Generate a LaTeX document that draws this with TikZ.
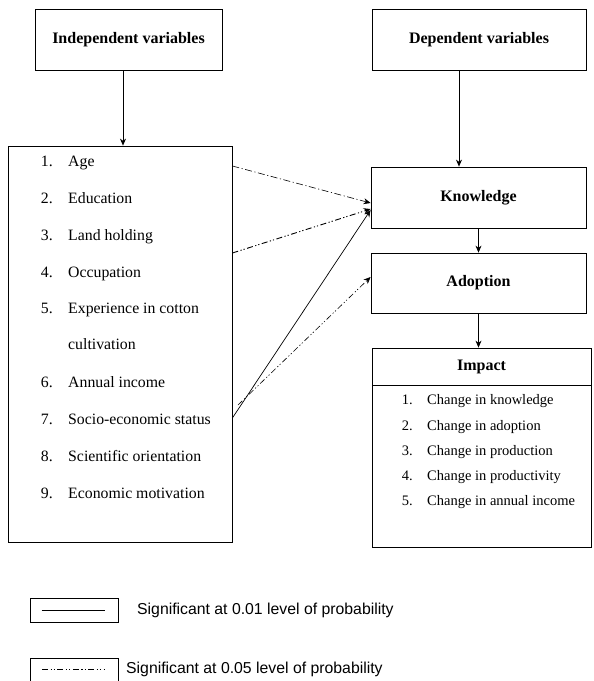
\documentclass[tikz,border=0pt]{standalone}
\usepackage{fontspec}
\setmainfont{Liberation Serif}
\newfontfamily\legfont{Liberation Sans}
\usetikzlibrary{arrows.meta}
\begin{document}
\begin{tikzpicture}[x=1pt,y=-1pt,
  box/.style={draw, line width=0.8pt, inner sep=0pt},
  head/.style={font=\fontsize{16}{18}\selectfont\bfseries},
  item/.style={font=\fontsize{15.8}{18}\selectfont, anchor=base west, inner sep=0pt},
  num/.style={font=\fontsize{15.8}{18}\selectfont, anchor=base east, inner sep=0pt},
  iitem/.style={font=\fontsize{14.5}{17}\selectfont, anchor=base west, inner sep=0pt},
  inum/.style={font=\fontsize{14.5}{17}\selectfont, anchor=base east, inner sep=0pt},
  arr/.style={-{Stealth[length=7pt,width=6pt]}, line width=0.7pt},
  dd1/.style={dash pattern=on 7pt off 2.5pt on 1.2pt off 2.5pt},
  dd2/.style={dash pattern=on 6pt off 2.5pt on 1.2pt off 2pt on 1.2pt off 2.5pt},
  leg/.style={font=\legfont\fontsize{15.8}{18}\selectfont, anchor=west, inner sep=0pt}
]
\useasboundingbox (0,0) rectangle (594,681);
% boxes
\node[box, minimum width=187pt, minimum height=61pt, head] (indep) at (128.5,39.5) {Independent variables};
\node[box, minimum width=214pt, minimum height=61pt, head] (dep) at (479,39.5) {Dependent variables};
\node[box, minimum width=224pt, minimum height=396pt] (list) at (120,344) {};
\node[box, minimum width=215pt, minimum height=61pt, head] (know) at (478.5,197.5) {Knowledge};
\node[box, minimum width=215pt, minimum height=60pt, head] (adop) at (478.5,283) {Adoption};
\node[box, minimum width=219pt, minimum height=199pt] (impact) at (481.5,447.5) {};
\coordinate (hl) at (372,385);
\draw[line width=0.8pt] (hl) -- (hl -| impact.east);
\node[head] (imph) at (481.5,367) {Impact};
% list items
\node[num] (n1) at (53,166) {1.}; \node[item] (i1) at (68,166) {Age};
\node[num] (n2) at (53,203) {2.}; \node[item] (i2) at (68,203) {Education};
\node[num] (n3) at (53,240) {3.}; \node[item] (i3) at (68,240) {Land holding};
\node[num] (n4) at (53,277) {4.}; \node[item] (i4) at (68,277) {Occupation};
\node[num] (n5) at (53,313) {5.}; \node[item] (i5) at (68,313) {Experience in cotton};
\node[item] (i5b) at (68,349) {cultivation};
\node[num] (n6) at (53,387) {6.}; \node[item] (i6) at (68,387) {Annual income};
\node[num] (n7) at (53,424) {7.}; \node[item] (i7) at (68,424) {Socio-economic status};
\node[num] (n8) at (53,461) {8.}; \node[item] (i8) at (68,461) {Scientific orientation};
\node[num] (n9) at (53,498) {9.}; \node[item] (i9) at (68,498) {Economic motivation};
% impact items
\node[inum] (m1) at (413,404) {1.}; \node[iitem] (j1) at (427,404) {Change in knowledge};
\node[inum] (m2) at (413,430) {2.}; \node[iitem] (j2) at (427,430) {Change in adoption};
\node[inum] (m3) at (413,455) {3.}; \node[iitem] (j3) at (427,455) {Change in production};
\node[inum] (m4) at (413,480) {4.}; \node[iitem] (j4) at (427,480) {Change in productivity};
\node[inum] (m5) at (413,505) {5.}; \node[iitem] (j5) at (427,505) {Change in annual income};
% vertical arrows
\draw[arr] ([xshift=-5.5pt]indep.south) -- ([xshift=-5.5pt]indep.south |- list.north);
\draw[arr] ([xshift=-20pt]dep.south) -- ([xshift=-20pt]dep.south |- know.north);
\draw[arr] (know.south) -- (adop.north);
\draw[arr] (adop.south) -- (adop.south |- impact.north);
% connectors
\coordinate (sAge) at (list.east |- 0,166);
\coordinate (sLand) at (list.east |- 0,253);
\coordinate (sSocio) at (list.east |- 0,418);
\coordinate (sSocio2) at (238,405);
\coordinate (kA) at (know.west |- 0,203);
\coordinate (kB) at (know.west |- 0,209);
\coordinate (kC) at (know.west |- 0,210);
\coordinate (aA) at (adop.west |- 0,277);
\draw[arr, dd1, line width=0.6pt] (sAge) -- (kA);
\draw[arr, dd2, line width=0.9pt] (sLand) -- (kB);
\draw[arr] (sSocio) -- (kC);
\draw[arr, dd2, line width=0.6pt] (sSocio2) -- (aA);
% legend
\node[box, minimum width=88pt, minimum height=24pt] (lb1) at (74,610) {};
\draw[line width=0.6pt] ([xshift=12pt]lb1.west) -- ([xshift=-13pt]lb1.east);
\node[leg] (lt1) at (137,610) {Significant at 0.01 level of probability};
\node[box, minimum width=88pt, minimum height=30pt] (lb2) at (74,673) {};
\coordinate (l2a) at (42,669);
\coordinate (l2b) at (105,669);
\draw[line width=0.6pt, dd2] (l2a) -- (l2b);
\node[leg] (lt2) at (126,669) {Significant at 0.05 level of probability};
\end{tikzpicture}
\end{document}
